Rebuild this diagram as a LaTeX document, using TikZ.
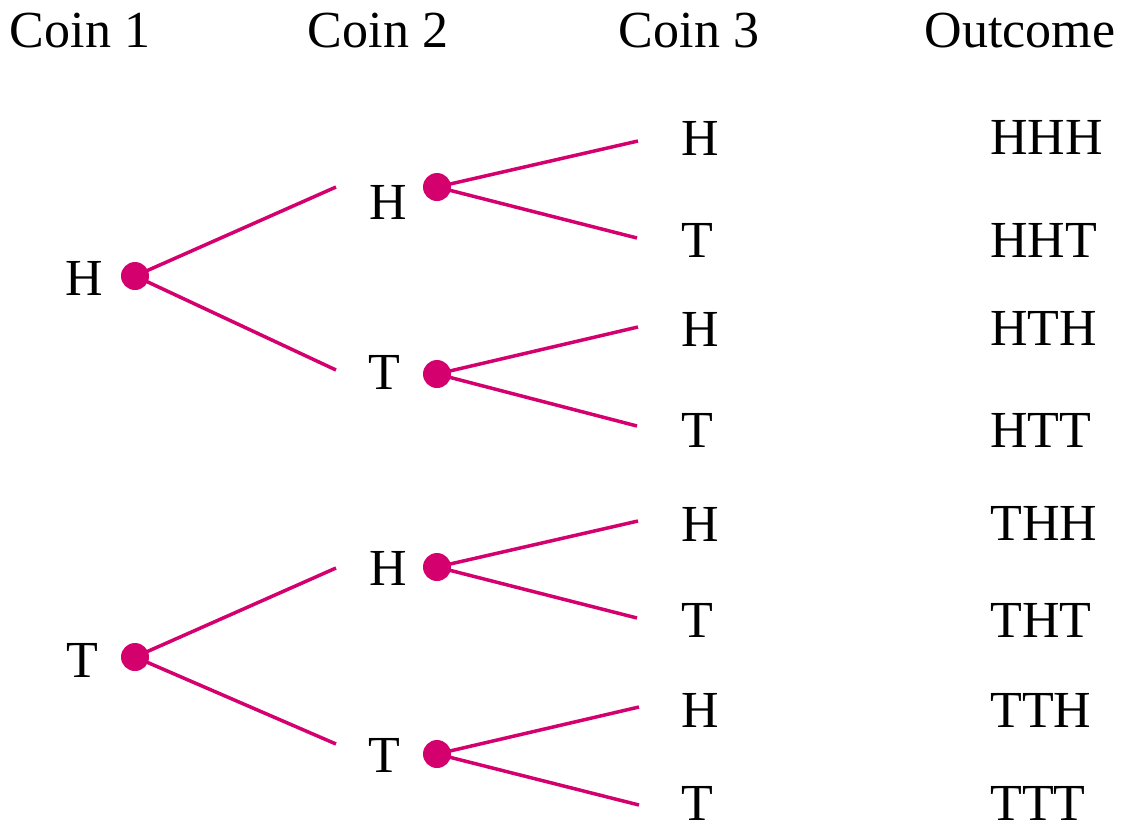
\documentclass[tikz,border=0pt]{standalone}
\usepackage{fontspec}
\setmainfont{Liberation Serif}
\definecolor{branch}{RGB}{212,0,110}
\begin{document}
\begin{tikzpicture}[x=0.5pt,y=-0.5pt,
  lbl/.style={inner sep=0pt,anchor=base,font=\fontsize{26}{30}\selectfont},
  outc/.style={lbl,anchor=base west},
  dot/.style={circle,fill=branch,inner sep=0pt,minimum size=14pt},
  branchline/.style={draw=branch,line width=1.75pt}]
\useasboundingbox (0,0) rectangle (1130,826);

% column headings
\node[lbl] (h1) at (80,47) {Coin 1};
\node[lbl] (h2) at (378,47) {Coin 2};
\node[lbl] (h3) at (689,47) {Coin 3};
\node[lbl] (h4) at (1020,47) {Outcome};

% first coin
\node[lbl] (aH) at (84,295) {H};
\node[lbl] (aT) at (82,677) {T};
\node[dot] (dH) at (135,276) {};
\node[dot] (dT) at (135,657) {};

% second coin
\node[lbl] (bHH) at (388,219) {H};
\node[lbl] (bHT) at (384,389) {T};
\node[lbl] (bTH) at (388,585) {H};
\node[lbl] (bTT) at (384,772) {T};
\node[dot] (dHH) at (437,187) {};
\node[dot] (dHT) at (437,374) {};
\node[dot] (dTH) at (437,567) {};
\node[dot] (dTT) at (437,754) {};

\coordinate (eHH) at (336,187);
\coordinate (eHT) at (336,370);
\coordinate (eTH) at (336,568);
\coordinate (eTT) at (336,744);

% third coin
\node[lbl] (c1) at (700,155) {H};
\node[lbl] (c2) at (697,257) {T};
\node[lbl] (c3) at (700,346) {H};
\node[lbl] (c4) at (697,447) {T};
\node[lbl] (c5) at (700,541) {H};
\node[lbl] (c6) at (697,637) {T};
\node[lbl] (c7) at (700,727) {H};
\node[lbl] (c8) at (697,820) {T};

\coordinate (f1) at (638,141);
\coordinate (f2) at (637,238);
\coordinate (f3) at (638,327);
\coordinate (f4) at (637,426);
\coordinate (f5) at (638,521);
\coordinate (f6) at (637,618);
\coordinate (f7) at (639,707);
\coordinate (f8) at (639,805);

% outcomes
\node[outc] (o1) at (990,154) {HHH};
\node[outc] (o2) at (990,257) {HHT};
\node[outc] (o3) at (990,345) {HTH};
\node[outc] (o4) at (990,447) {HTT};
\node[outc] (o5) at (990,540) {THH};
\node[outc] (o6) at (990,637) {THT};
\node[outc] (o7) at (990,727) {TTH};
\node[outc] (o8) at (990,820) {TTT};

% branches
\draw[branchline] (dH.center) -- (eHH);
\draw[branchline] (dH.center) -- (eHT);
\draw[branchline] (dT.center) -- (eTH);
\draw[branchline] (dT.center) -- (eTT);
\draw[branchline] (dHH.center) -- (f1);
\draw[branchline] (dHH.center) -- (f2);
\draw[branchline] (dHT.center) -- (f3);
\draw[branchline] (dHT.center) -- (f4);
\draw[branchline] (dTH.center) -- (f5);
\draw[branchline] (dTH.center) -- (f6);
\draw[branchline] (dTT.center) -- (f7);
\draw[branchline] (dTT.center) -- (f8);
\end{tikzpicture}
\end{document}
